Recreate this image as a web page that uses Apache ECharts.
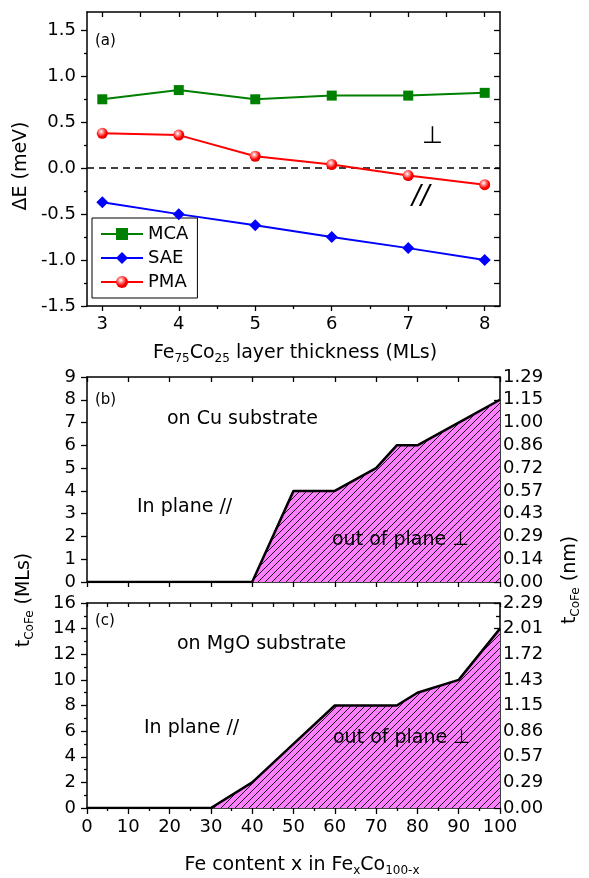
<!DOCTYPE html>
<html><head><meta charset="utf-8">
<script src="https://cdn.jsdelivr.net/npm/echarts@6/dist/echarts.min.js"></script>
<style>html,body{margin:0;padding:0;background:#fff}#c{width:589px;height:878px}</style>
</head><body><div id="c"></div>
<script>
// ---------- data ----------
const thickness = [3, 4, 5, 6, 7, 8];
const mcaValues = [0.75, 0.85, 0.75, 0.79, 0.79, 0.82];
const saeValues = [-0.37, -0.50, -0.62, -0.75, -0.87, -1.00];
const pmaValues = [0.38, 0.36, 0.13, 0.04, -0.08, -0.18];
const yTicksA = [-1.5, -1.0, -0.5, 0.0, 0.5, 1.0, 1.5];

const feContentCu = [0, 40, 50, 60, 70, 75, 80, 90, 100];
const tCoFeCu = [0, 0, 4, 4, 5, 6, 6, 7, 8];
const feContentMgO = [0, 30, 40, 50, 60, 75, 80, 90, 100];
const tCoFeMgO = [0, 0, 2, 5, 8, 8, 9, 10, 14];
const nmTicksB = ['0.00','0.14','0.29','0.43','0.57','0.72','0.86','1.00','1.15','1.29'];
const nmTicksC = ['0.00','0.29','0.57','0.86','1.15','1.43','1.72','2.01','2.29'];

// ---------- styles ----------
const FONT = 'DejaVu Sans';
const BLACK = '#000';
const chart = echarts.init(document.getElementById('c'), null, {renderer: 'canvas'});

function hatchCanvas() {
  const s = 7;
  const c = document.createElement('canvas'); c.width = s; c.height = s;
  const g = c.getContext('2d');
  g.fillStyle = '#FF80FF'; g.fillRect(0, 0, s, s);
  g.strokeStyle = '#000'; g.lineWidth = 0.9;
  g.beginPath();
  g.moveTo(-1, s + 1); g.lineTo(s + 1, -1);
  g.moveTo(-1, 1); g.lineTo(1, -1);
  g.moveTo(s - 1, s + 1); g.lineTo(s + 1, s - 1);
  g.stroke();
  return c;
}
const hatch = {image: hatchCanvas(), repeat: 'repeat'};

const aLine = {show: true, onZero: false, lineStyle: {color: BLACK, width: 1.5}};
const noLine = {show: false, onZero: false};
const tk = (len, inside, extra) => Object.assign({show: true, inside: inside, length: len, lineStyle: {color: BLACK, width: 1.3}}, extra || {});
const lbl = (extra) => Object.assign({color: BLACK, fontSize: 18, fontFamily: FONT}, extra || {});
const off = {show: false};

const minorX = thickness.slice(0, -1).map(v => v + 0.5);
const allHalfX = thickness.concat(minorX);
const minorYA = yTicksA.slice(0, -1).map(v => v + 0.25);
const allQuarterY = yTicksA.concat(minorYA);

const grids = [
  {left: 87, top: 12, width: 413, height: 294},
  {left: 87, top: 377, width: 413, height: 205},
  {left: 87, top: 603, width: 413, height: 205}
];

const xAxes = [
  // grid 0
  {gridIndex: 0, type: 'value', position: 'bottom', min: 2.8, max: 8.2, axisLine: aLine,
   axisTick: tk(5, false, {customValues: thickness}),
   axisLabel: lbl({margin: 9, customValues: thickness, formatter: v => String(v)}), splitLine: off},
  {gridIndex: 0, type: 'value', position: 'bottom', min: 2.8, max: 8.2, axisLine: noLine,
   axisTick: tk(3, false, {customValues: minorX}), axisLabel: off, splitLine: off},
  {gridIndex: 0, type: 'value', position: 'top', min: 2.8, max: 8.2, axisLine: aLine,
   axisTick: tk(5, true, {customValues: allHalfX}), axisLabel: off, splitLine: off},
  // grid 1
  {gridIndex: 1, type: 'value', position: 'bottom', min: 0, max: 100, interval: 10, axisLine: aLine,
   axisTick: tk(5, false), axisLabel: off, splitLine: off},
  {gridIndex: 1, type: 'value', position: 'top', min: 0, max: 100, interval: 10, axisLine: aLine,
   axisTick: tk(5, true), axisLabel: off, splitLine: off},
  // grid 2
  {gridIndex: 2, type: 'value', position: 'bottom', min: 0, max: 100, interval: 10, axisLine: aLine,
   axisTick: tk(6, false), minorTick: {show: true, splitNumber: 2, length: 3, lineStyle: {color: BLACK, width: 1.3}},
   axisLabel: lbl({margin: 10}), splitLine: off},
  {gridIndex: 2, type: 'value', position: 'top', min: 0, max: 100, interval: 10, axisLine: aLine,
   axisTick: tk(4, true), minorTick: {show: true, splitNumber: 2, length: 4, lineStyle: {color: BLACK, width: 1.3}},
   axisLabel: off, splitLine: off}
];

const yAxes = [
  // grid 0
  {gridIndex: 0, type: 'value', position: 'left', min: -1.5, max: 1.7, axisLine: aLine,
   axisTick: tk(6, false, {customValues: yTicksA}),
   axisLabel: lbl({margin: 11, customValues: yTicksA, formatter: v => v.toFixed(1)}), splitLine: off},
  {gridIndex: 0, type: 'value', position: 'left', min: -1.5, max: 1.7, axisLine: noLine,
   axisTick: tk(3, false, {customValues: minorYA}), axisLabel: off, splitLine: off},
  {gridIndex: 0, type: 'value', position: 'right', min: -1.5, max: 1.7, axisLine: aLine,
   axisTick: tk(6, true, {customValues: allQuarterY}), axisLabel: off, splitLine: off},
  // grid 1
  {gridIndex: 1, type: 'value', position: 'left', min: 0, max: 9, interval: 1, axisLine: aLine,
   axisTick: tk(6, false), axisLabel: lbl({margin: 11}), splitLine: off},
  {gridIndex: 1, type: 'value', position: 'right', min: 0, max: 9, interval: 1, axisLine: aLine,
   axisTick: tk(6, true), axisLabel: lbl({margin: 3, formatter: v => nmTicksB[Math.round(v)]}), splitLine: off},
  // grid 2
  {gridIndex: 2, type: 'value', position: 'left', min: 0, max: 16, interval: 2, axisLine: aLine,
   axisTick: tk(6, false), minorTick: {show: true, splitNumber: 2, length: 3, lineStyle: {color: BLACK, width: 1.3}},
   axisLabel: lbl({margin: 11}), splitLine: off},
  {gridIndex: 2, type: 'value', position: 'right', min: 0, max: 16, interval: 2, axisLine: aLine,
   axisTick: tk(6, true), minorTick: {show: true, splitNumber: 2, length: 4, lineStyle: {color: BLACK, width: 1.3}},
   axisLabel: lbl({margin: 3, formatter: v => nmTicksC[Math.round(v / 2)]}), splitLine: off}
];

const pmaColor = {type: 'radial', x: 0.4, y: 0.35, r: 0.65, colorStops: [
  {offset: 0, color: '#ffffff'}, {offset: 0.3, color: '#ff9090'}, {offset: 0.7, color: '#ff0000'}, {offset: 1, color: '#e00000'}]};

const pairs = (xs, ys) => xs.map((x, i) => [x, ys[i]]);

const series = [
  {name: 'MCA', type: 'line', xAxisIndex: 0, yAxisIndex: 0, data: pairs(thickness, mcaValues),
   symbol: 'rect', symbolSize: 10, itemStyle: {color: '#008000'}, lineStyle: {color: '#008000', width: 2}, z: 4,
   markLine: {silent: true, symbol: ['none', 'none'], label: {show: false},
     lineStyle: {color: BLACK, type: [7, 5], width: 1.5}, data: [{yAxis: 0}], z: 2}},
  {name: 'SAE', type: 'line', xAxisIndex: 0, yAxisIndex: 0, data: pairs(thickness, saeValues),
   symbol: 'diamond', symbolSize: [12, 12], itemStyle: {color: '#0000ff'}, lineStyle: {color: '#0000ff', width: 2}, z: 4},
  {name: 'PMA', type: 'line', xAxisIndex: 0, yAxisIndex: 0, data: pairs(thickness, pmaValues),
   symbol: 'circle', symbolSize: 11, itemStyle: {color: pmaColor}, lineStyle: {color: '#ff0000', width: 2}, z: 4},
  {name: 'Cu', type: 'line', xAxisIndex: 3, yAxisIndex: 3, data: pairs(feContentCu, tCoFeCu),
   symbol: 'none', lineStyle: {color: BLACK, width: 2.5}, areaStyle: {color: hatch, opacity: 1}, z: 3},
  {name: 'MgO', type: 'line', xAxisIndex: 5, yAxisIndex: 5, data: pairs(feContentMgO, tCoFeMgO),
   symbol: 'none', lineStyle: {color: BLACK, width: 2.5}, areaStyle: {color: hatch, opacity: 1}, z: 3}
];

const txt = (text, x, y, size, extra) => ({type: 'text', x: x, y: y, z: 50,
  style: Object.assign({text: text, fontSize: size, fontFamily: FONT, fill: BLACK,
    align: 'left', verticalAlign: 'middle', textAlign: 'left', textVerticalAlign: 'middle'}, extra || {})});

const subRich = (size) => ({
  n: {fontSize: size, fontFamily: FONT, fill: BLACK, lineHeight: size + 2, verticalAlign: 'top'},
  s: {fontSize: 12, fontFamily: FONT, fill: BLACK, lineHeight: 13, verticalAlign: 'bottom', padding: [size - 5, 0, 0, 0]}
});
const richTxt = (text, x, y, size, rot) => ({type: 'text', x: x, y: y, rotation: rot || 0, z: 50,
  style: {text: text, rich: subRich(size), fontSize: size, fontFamily: FONT, fill: BLACK,
    align: 'center', verticalAlign: 'middle', textAlign: 'center', textVerticalAlign: 'middle'}});

const graphics = [
  txt('(a)', 95, 41, 15),
  txt('\u22A5', 422, 137, 24),
  txt('//', 412, 197, 26, {fontStyle: 'italic'}),
  txt('(b)', 95, 400, 15),
  txt('on Cu substrate', 167, 419, 19),
  txt('In plane //', 137, 507, 19),
  txt('out of plane \u22A5', 332, 540, 19),
  txt('(c)', 95, 621, 15),
  txt('on MgO substrate', 177, 644, 19),
  txt('In plane //', 144, 728, 19),
  txt('out of plane \u22A5', 333, 738, 19),
  {type: 'text', x: 21, y: 166, rotation: Math.PI / 2, z: 50,
   style: {text: '\u0394E (meV)', fontSize: 19, fontFamily: FONT, fill: BLACK,
     align: 'center', verticalAlign: 'middle', textAlign: 'center', textVerticalAlign: 'middle'}},
  richTxt('{n|Fe}{s|75}{n|Co}{s|25}{n| layer thickness (MLs)}', 295, 354, 19),
  richTxt('{n|Fe content x in Fe}{s|x}{n|Co}{s|100-x}', 302, 866, 19),
  richTxt('{n|t}{s|CoFe}{n| (MLs)}', 25, 600, 19, Math.PI / 2),
  richTxt('{n|t}{s|CoFe}{n| (nm)}', 571, 580, 19, Math.PI / 2)
];

chart.setOption({
  animation: false,
  backgroundColor: '#fff',
  grid: grids,
  xAxis: xAxes,
  yAxis: yAxes,
  legend: {data: ['MCA', 'SAE', 'PMA'], orient: 'vertical', left: 92, top: 218,
    backgroundColor: '#fff', borderColor: BLACK, borderWidth: 1, borderRadius: 0,
    padding: [7, 9, 7, 8], itemWidth: 42, itemHeight: 15, itemGap: 6,
    textStyle: {color: BLACK, fontSize: 18, fontFamily: FONT, lineHeight: 17}},
  series: series,
  graphic: graphics
});
</script></body></html>
